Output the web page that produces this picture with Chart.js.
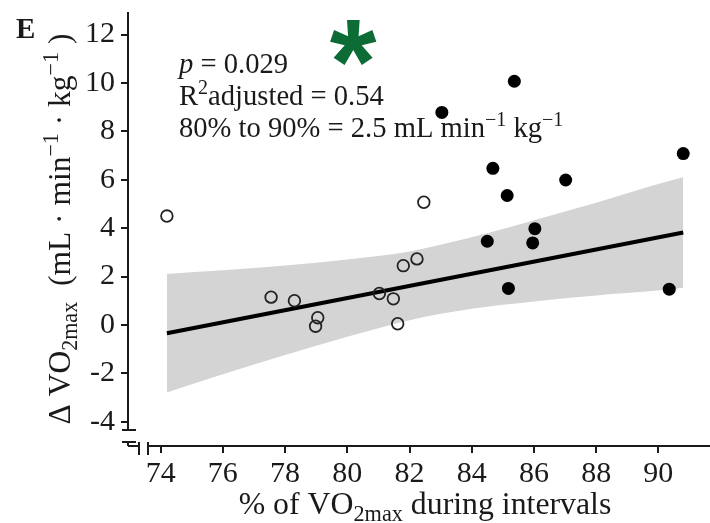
<!DOCTYPE html>
<html lang="en">
<head>
<meta charset="UTF-8">
<title>Change in VO2max vs interval intensity</title>
<script src="https://cdn.jsdelivr.net/npm/chart.js"></script>
<style>
  body { margin: 0; background: #fff; }
  canvas { display: block; }
</style>
</head>
<body>
<canvas id="vo2Chart" width="710" height="523"></canvas>
<script>
// axis ticks
const xTicks = [74, 76, 78, 80, 82, 84, 86, 88, 90];
const yTicks = [-4, -2, 0, 2, 4, 6, 8, 10, 12];

// participants who trained at lower intensity (open circles)
const lowX = [74.2, 77.55, 78.3, 78.98, 79.05, 81.03, 81.48, 81.62, 81.8, 82.24, 82.46];
const lowY = [4.5, 1.15, 1.0, -0.05, 0.3, 1.3, 1.08, 0.05, 2.45, 2.73, 5.07];

// participants who trained at higher intensity (filled circles)
const highX = [83.04, 84.5, 84.68, 85.14, 85.18, 85.37, 85.96, 86.03, 87.02, 90.35, 90.8];
const highY = [8.78, 3.46, 6.47, 5.35, 1.51, 10.07, 3.39, 3.98, 5.99, 1.48, 7.08];

// fitted regression line
const fitX = [74.2, 90.8];
const fitY = [-0.34, 3.82];

// 95% confidence band around the fit
const bandX = [74.2, 76, 78, 80, 82, 84, 86, 88, 90, 90.8];
const bandHi = [2.11, 2.26, 2.46, 2.71, 3.04, 3.62, 4.33, 5.05, 5.82, 6.1];
const bandLo = [-2.79, -2.04, -1.24, -0.49, 0.2, 0.67, 0.97, 1.22, 1.42, 1.54];

const SERIF = '"Liberation Serif", "Times New Roman", serif';
const INK = '#1a1a1a';

const pts = (xs, ys) => xs.map((x, i) => ({ x, y: ys[i] }));

function fontStr(size, italic, bold) {
  return (italic ? 'italic ' : '') + (bold ? 'bold ' : '') + size + 'px ' + SERIF;
}

function partSize(p, size) {
  return p.sub || p.sup ? size * 0.7 : size;
}

function richWidth(ctx, parts, size) {
  let w = 0;
  parts.forEach(p => {
    ctx.font = fontStr(partSize(p, size), p.it);
    w += ctx.measureText(p.t).width;
  });
  return w;
}

// draws a run of text pieces with sub/superscripts
function drawRich(ctx, parts, x, y, size, align) {
  let cx = align === 'center' ? x - richWidth(ctx, parts, size) / 2 : x;
  ctx.textAlign = 'left';
  ctx.textBaseline = 'alphabetic';
  parts.forEach(p => {
    ctx.font = fontStr(partSize(p, size), p.it);
    const dy = p.sub ? size * 0.22 : p.sup ? -size * 0.38 : 0;
    ctx.fillText(p.t, cx, y + dy);
    cx += ctx.measureText(p.t).width;
  });
}

const xTitle = [{ t: '% of VO' }, { t: '2max', sub: true }, { t: ' during intervals' }];
const yTitle = [
  { t: '\u0394 VO' }, { t: '2max', sub: true }, { t: '  (mL \u00b7 min' },
  { t: '\u22121', sup: true }, { t: ' \u00b7 kg' }, { t: '\u22121', sup: true }, { t: ' )' }
];
const notes = [
  [{ t: 'p', it: true }, { t: ' = 0.029' }],
  [{ t: 'R' }, { t: '2', sup: true }, { t: 'adjusted = 0.54' }],
  [{ t: '80% to 90% = 2.5 mL min' }, { t: '\u22121', sup: true }, { t: ' kg' }, { t: '\u22121', sup: true }]
];

// axis lines with the little break marks at the origin corner
const brokenAxes = {
  id: 'brokenAxes',
  afterDraw(chart) {
    const ctx = chart.ctx;
    const { left, top, bottom, right } = chart.chartArea;
    const seg = (x1, y1, x2, y2) => {
      ctx.beginPath();
      ctx.moveTo(x1, y1);
      ctx.lineTo(x2, y2);
      ctx.stroke();
    };
    ctx.save();
    ctx.strokeStyle = INK;
    ctx.lineWidth = 2;
    seg(left, top, left, bottom - 16);
    seg(left - 6, bottom - 16, left + 8, bottom - 16);
    seg(left - 6, bottom - 4, left + 8, bottom - 4);
    seg(left, bottom - 4, left, bottom);
    seg(left, bottom, left + 11, bottom);
    seg(left + 11, bottom - 4, left + 11, bottom + 9);
    seg(left + 20, bottom - 4, left + 20, bottom + 9);
    seg(left + 20, bottom, right, bottom);
    ctx.restore();
  }
};

// titles, statistics and panel letter
const labels = {
  id: 'labels',
  afterDraw(chart) {
    const ctx = chart.ctx;
    const { left, right, top, bottom } = chart.chartArea;
    ctx.save();
    ctx.fillStyle = INK;

    drawRich(ctx, xTitle, 425, 514, 31.8, 'center');

    ctx.save();
    ctx.translate(70, (top + bottom) / 2);
    ctx.rotate(-Math.PI / 2);
    drawRich(ctx, yTitle, 0, 0, 31.5, 'center');
    ctx.restore();

    notes.forEach((line, i) => drawRich(ctx, line, 179, 73 + i * 32, 28.6, 'left'));

    ctx.font = fontStr(29, false, true);
    ctx.textAlign = 'left';
    ctx.fillText('E', 16, 38);

    // significance star
    ctx.fillStyle = '#0d6b35';
    ctx.font = 'bold 120px "Liberation Sans", Arial, sans-serif';
    ctx.textAlign = 'center';
    const m = ctx.measureText('*');
    const base = 42 - (m.actualBoundingBoxDescent - m.actualBoundingBoxAscent) / 2;
    ctx.fillText('*', 353, base);
    ctx.restore();
  }
};

const tickFont = { family: SERIF, size: 30 };

new Chart(document.getElementById('vo2Chart'), {
  type: 'scatter',
  data: {
    datasets: [
      {
        label: 'Higher intensity',
        data: pts(highX, highY),
        pointRadius: 6.5,
        backgroundColor: '#000',
        borderColor: '#000',
        borderWidth: 0
      },
      {
        label: 'Lower intensity',
        data: pts(lowX, lowY),
        pointRadius: 5.8,
        backgroundColor: 'rgba(0,0,0,0)',
        borderColor: '#222',
        borderWidth: 1.8
      },
      {
        type: 'line',
        label: 'Fit',
        data: pts(fitX, fitY),
        borderColor: '#000',
        borderWidth: 4,
        pointRadius: 0,
        fill: false
      },
      {
        type: 'line',
        label: 'CI upper',
        data: pts(bandX, bandHi),
        borderWidth: 0,
        borderColor: 'rgba(0,0,0,0)',
        backgroundColor: '#d4d4d4',
        pointRadius: 0,
        cubicInterpolationMode: 'monotone',
        fill: '+1'
      },
      {
        type: 'line',
        label: 'CI lower',
        data: pts(bandX, bandLo),
        borderWidth: 0,
        borderColor: 'rgba(0,0,0,0)',
        pointRadius: 0,
        cubicInterpolationMode: 'monotone',
        fill: false
      }
    ]
  },
  options: {
    responsive: false,
    devicePixelRatio: 1,
    animation: false,
    layout: { autoPadding: false, padding: { top: 12, left: 0, right: 0, bottom: 0 } },
    plugins: { legend: { display: false }, tooltip: { enabled: false } },
    scales: {
      x: {
        type: 'linear',
        min: 72.95,
        max: 91.66,
        afterBuildTicks: s => { s.ticks = xTicks.map(v => ({ value: v })); },
        afterFit: s => {
          s.height = 77;
          s.paddingLeft = 0; s.paddingRight = 0;
        },
        ticks: { font: tickFont, color: INK, padding: 3, maxRotation: 0, callback: v => String(v) },
        grid: { drawOnChartArea: false, drawTicks: true, tickLength: 7, lineWidth: 2, color: INK },
        border: { display: false }
      },
      y: {
        type: 'linear',
        min: -5.0,
        max: 12.93,
        afterBuildTicks: s => { s.ticks = yTicks.map(v => ({ value: v })); },
        afterFit: s => {
          s.width = 128;
          s.paddingTop = 0; s.paddingBottom = 0;
        },
        ticks: { font: tickFont, color: INK, padding: 6, callback: v => String(v) },
        grid: { drawOnChartArea: false, drawTicks: true, tickLength: 7, lineWidth: 2, color: INK },
        border: { display: false }
      }
    }
  },
  plugins: [brokenAxes, labels]
});
</script>
</body>
</html>
